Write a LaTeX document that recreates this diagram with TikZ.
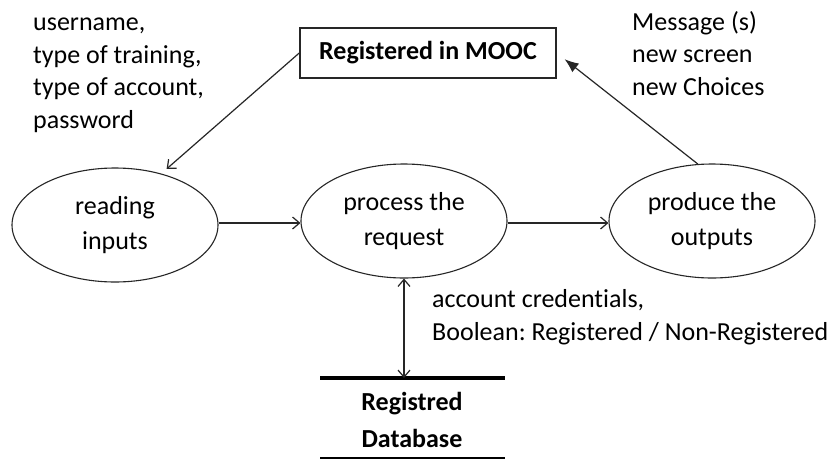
\documentclass[tikz,border=0pt]{standalone}
\usepackage{fontspec}
\setmainfont{Carlito}[Ligatures=NoCommon]
\frenchspacing
\usetikzlibrary{arrows.meta,shapes.geometric}

\tikzset{
  lbl/.style={font=\fontsize{26}{32.5}\selectfont, align=left, inner sep=0pt, anchor=base west},
  proc/.style={ellipse, draw=black!85, line width=1.1pt, minimum width=206pt, minimum height=114pt,
               inner sep=0pt, align=center, font=\fontsize{26}{35}\selectfont},
  entity/.style={draw=black!85, line width=1.5pt, minimum width=256pt, minimum height=50pt,
                 inner sep=0pt, font=\bfseries\fontsize{26}{32}\selectfont},
  barb/.tip={Straight Barb[length=7pt,width=12pt,line width=1.2pt]},
  flow/.style={line width=1.2pt, draw=black!85, -barb},
  flowboth/.style={line width=1.2pt, draw=black!85, barb-barb},
  back/.style={line width=1.2pt, draw=black!85, -{Latex[length=14pt,width=11pt]}},
  dbline/.style={line width=#1, draw=black},
}

\begin{document}
\begin{tikzpicture}[x=1pt, y=-1pt]
  \useasboundingbox[fill=white] (0,0) rectangle (840,461);

  % external entity
  \node[entity] (mooc) at (428,53) {Registered in MOOC};

  % processes
  \node[proc] (read) at (115,225) {reading\\inputs};
  \node[proc] (proc) at (404,221) {process the\\request};
  \node[proc] (prod) at (712,221) {produce the\\outputs};

  % data store
  \coordinate (dbTL) at (320,378);
  \coordinate (dbTR) at (505,378);
  \coordinate (dbBL) at (320,458);
  \coordinate (dbBR) at (505,458);
  \node[inner sep=0pt, align=center, font=\bfseries\fontsize{26}{37}\selectfont] (db) at (412,420) {Registred\\Database};
  \draw[dbline=4pt] (dbTL) -- (dbTR);
  \draw[dbline=1.4pt] (dbBL) -- (dbBR);

  % flows
  \draw[flow, shorten >=7pt] (mooc.west) -- (read.48);
  \draw[flow] (read.east |- 0,223) -- (proc.west |- 0,223);
  \draw[flow] (proc.east |- 0,223) -- (prod.west |- 0,223);
  \draw[back, shorten >=10pt] (prod.104) -- (mooc.east);
  \draw[flowboth] (proc.south) -- (proc.south |- dbTL);

  % flow labels (anchored at the baseline of their last line)
  \node[lbl] (inlbl) at (33,128) {username,\\type of training,\\type of account,\\password};
  \node[lbl] (outlbl) at (632,95) {Message (s)\\new screen\\new Choices};
  \node[lbl] (dblbl) at (432,340) {account credentials,\\Boolean: Registered / Non-Registered};
\end{tikzpicture}
\end{document}
